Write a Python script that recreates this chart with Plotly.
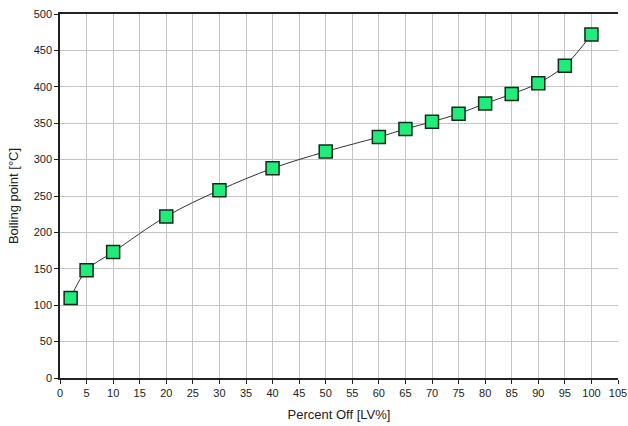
import plotly.graph_objects as go

# Distillation curve: percent off vs boiling point
percent_off = [2, 5, 10, 20, 30, 40, 50, 60, 65, 70, 75, 80, 85, 90, 95, 100]
boiling_point = [110, 148, 173, 222, 258, 288, 311, 331, 342, 352, 363, 377, 390, 405, 429, 472]

x_ticks = list(range(0, 106, 5))
y_ticks = list(range(0, 501, 50))

fig = go.Figure()
fig.add_trace(go.Scatter(
    x=percent_off,
    y=boiling_point,
    mode="lines+markers",
    line=dict(color="#333333", width=1, shape="spline"),
    marker=dict(symbol="square", size=13, color="#20ec7a",
                line=dict(color="#142a1a", width=1.5)),
    showlegend=False,
    cliponaxis=False,
))

tick_font = dict(family="Liberation Sans, Arial, sans-serif", size=11, color="#222222")
title_font = dict(family="Liberation Sans, Arial, sans-serif", size=13, color="#222222")

fig.update_xaxes(
    range=[0, 105], tickvals=x_ticks, ticktext=[str(v) for v in x_ticks],
    showgrid=True, gridcolor="#c4c4c4", gridwidth=1,
    showline=True, linecolor="#222222", linewidth=1.5, mirror=True,
    ticks="outside", ticklen=4, tickcolor="#222222",
    zeroline=False, tickfont=tick_font, automargin=False,
    title=dict(text="Percent Off [LV%]", font=title_font, standoff=12),
)
fig.update_yaxes(
    range=[0, 500], tickvals=y_ticks, ticktext=[str(v) for v in y_ticks],
    showgrid=True, gridcolor="#c4c4c4", gridwidth=1,
    showline=True, linecolor="#222222", linewidth=1.5, mirror=False,
    ticks="outside", ticklen=4, tickcolor="#222222",
    zeroline=False, tickfont=tick_font, automargin=False,
    title=dict(text="Boiling point [°C]", font=title_font, standoff=12),
)

fig.update_layout(
    width=628, height=426,
    margin=dict(l=60, r=10, t=14, b=48),
    paper_bgcolor="white", plot_bgcolor="white",
)

fig.write_html("out.html")
